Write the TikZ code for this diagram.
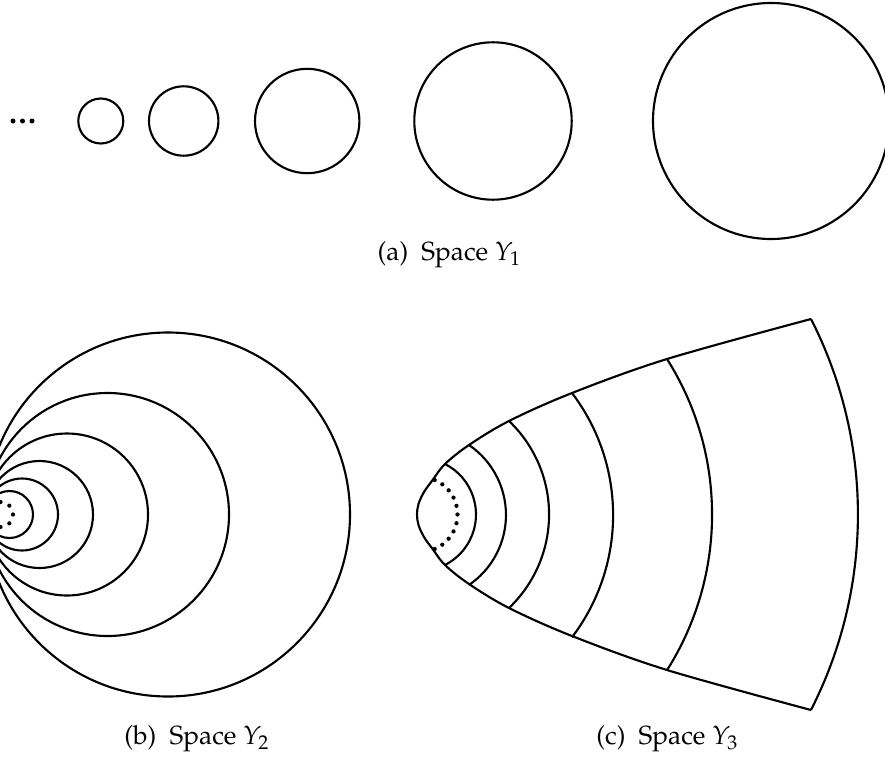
\documentclass[tikz,border=0pt]{standalone}
\usepackage[T1]{fontenc}
\usepackage{mathpazo}
\usetikzlibrary{positioning, calc}

\begin{document}
\begin{tikzpicture}[
    x=0.4pt, y=0.4pt,
    curve/.style={draw, line width=0.85pt},
    dot/.style={fill, circle, inner sep=0pt, minimum size=#1},
    dot/.default=1.7pt,
    subcap/.style={font=\fontsize{10.5}{12}\selectfont, inner sep=0pt}
  ]
  \useasboundingbox (0,0) rectangle (885,762);

  % (a) growing circles
  \foreach \x in {13,22.5,32}
    \node[dot=2pt] at (\x,641) {};
  \foreach \x/\r in {100.8/22.5, 183.7/34.7, 307.2/52.2, 493/78.7, 771/118}
    \draw[curve] (\x,641) circle[radius=\r];
  \node[subcap] (capa) at (449.5,507) {(a)\enspace Space $Y_1$};

  % (b) circles tangent at one point
  \coordinate (touch) at (-14,247.5);
  \foreach \r in {23.5, 36, 53.5, 81, 121.5, 182}
    \draw[curve] (touch) ++(\r,0) circle[radius=\r];
  \foreach \a in {90,45,0,-45,-90}
    \node[dot] at ($(0.5,247.5)+(\a:12.5)$) {};
  \node[subcap] (capb) at (197,23) {(b)\enspace Space $Y_2$};

  % (c) horn with cross sections
  \coordinate (hub) at (420,247.5);
  \draw[curve] plot[smooth, tension=0.55] coordinates {
      (811,443) (667,403) (572,369) (509,341) (469,317) (445,298)
      (433,282.5) (424,270) (418.5,258) (417,247.5) (418.5,237) (424,225)
      (433,212.5) (445,197) (469,178)
      (509,154) (572,126) (667,92) (811,52)};
  \foreach \px/\py/\t/\r in {445/298/63.1/56.6, 469/317/55.7/84.7,
      509/341/46.4/129.1, 572/369/37.2/202, 667/403/32.3/291.2,
      811/443/27/430.5}
    \draw[curve] (\px,\py) arc[start angle=\t, end angle=-\t, radius=\r];
  \foreach \i in {0,...,10}
    \node[dot] at ($(hub)+(66.9-\i*13.38:37.5)$) {};
  \node[subcap] (capc) at (667.5,23) {(c)\enspace Space $Y_3$};

\end{tikzpicture}
\end{document}
